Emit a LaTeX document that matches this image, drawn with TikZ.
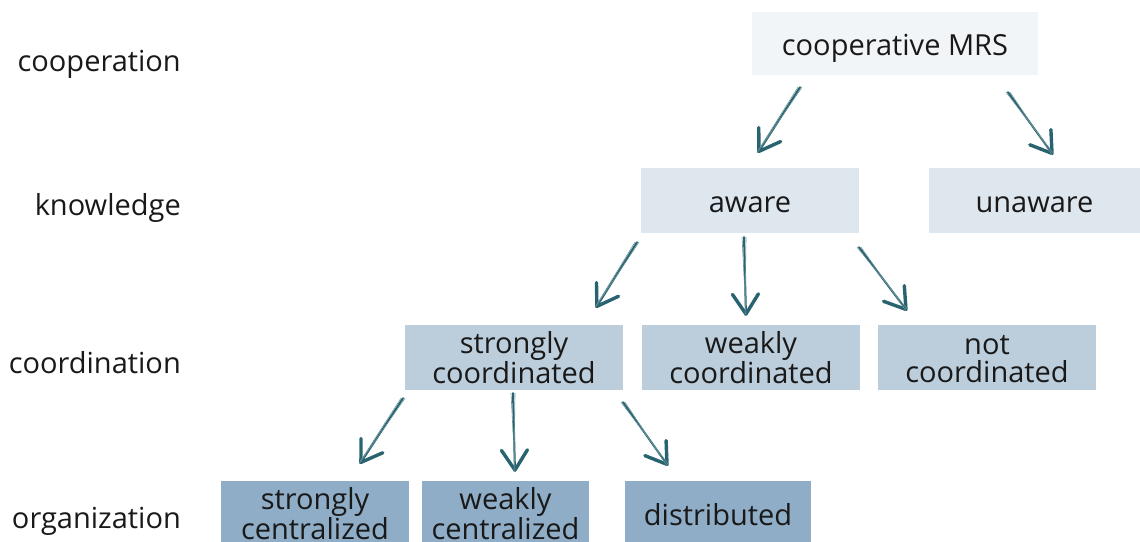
\documentclass[tikz,border=0pt]{standalone}
\usepackage{fontspec}
\setmainfont{Open Sans}
\usetikzlibrary{arrows.meta, positioning}

\definecolor{levelA}{HTML}{F2F5F8}
\definecolor{levelB}{HTML}{DFE7EE}
\definecolor{levelC}{HTML}{BCCEDC}
\definecolor{levelD}{HTML}{8FADC6}
\definecolor{arrowteal}{HTML}{28636F}

\begin{document}
\begin{tikzpicture}[
    x=1pt, y=1pt,
    % Node styles
    category/.style={
        rectangle, inner sep=0pt, align=center,
        font=\fontsize{29}{28}\selectfont, text=black!90,
    },
    one line/.style={
        category, text height=25pt, text depth=1pt,
    },
    levelname/.style={
        anchor=east, inner sep=0pt,
        font=\fontsize{29}{28}\selectfont, text=black!90,
    },
    % Edge/arrow style
    sketch/.style={
        draw=arrowteal, line width=2pt, line cap=round,
        -{Straight Barb[length=20pt, width=26pt, line width=3.4pt, round]},
    },
    sketch trace/.style={
        draw=arrowteal!70, line width=0.6pt, line cap=round,
    },
  ]
  \useasboundingbox (0,0) rectangle (1140,541);

  % --- level names on the left ---
  \node[levelname] (cooplabel) at (181,477) {cooperation};
  \node[levelname] (knowlabel) at (181,333) {knowledge};
  \node[levelname] (coordlabel) at (181,178) {coordination};
  \node[levelname] (orglabel) at (181,20) {organization};

  % --- the tree ---
  \node[one line, fill=levelA, minimum width=286pt, minimum height=63pt] (coop) at (895,497.5) {cooperative MRS};

  \node[one line, fill=levelB, minimum width=218pt, minimum height=65pt] (aware) at (750,340.5) {aware};
  \node[one line, fill=levelB, minimum width=211pt, minimum height=65pt] (unaware) at (1034.5,340.5) {unaware};

  \node[category, fill=levelC, minimum width=218pt, minimum height=65pt] (scoord) at (514,183.5) {strongly\\coordinated};
  \node[category, fill=levelC, minimum width=218pt, minimum height=65pt] (wcoord) at (751,183.5) {weakly\\coordinated};
  \node[category, fill=levelC, minimum width=218pt, minimum height=65pt] (ncoord) at (987,183.5) {\vphantom{l}not\\coordinated};

  \node[category, fill=levelD, minimum width=188pt, minimum height=65pt] (scent) at (315,27.5) {strongly\\centralized};
  \node[category, fill=levelD, minimum width=167pt, minimum height=65pt] (wcent) at (505.5,27.5) {weakly\\centralized};
  \node[one line, fill=levelD, minimum width=186pt, minimum height=65pt] (dist) at (718,27.5) {distributed};

  % --- hand drawn arrows ---
  \foreach \from/\fs/\to/\ts in {
      coop/{(-95,-12)}/aware/{(8,15)},
      coop/{(113,-17)}/unaware/{(18.5,13)},
      aware/{(-113,-9)}/scoord/{(82,17)},
      aware/{(-6,-4)}/wcoord/{(-5,9)},
      aware/{(109,-14)}/ncoord/{(-80,14)},
      scoord/{(-111,-8)}/scent/{(45,17)},
      scoord/{(-1,-3)}/wcent/{(9.5,9)},
      scoord/{(109,-12)}/dist/{(-50,15)}} {
    \draw[sketch] ([shift=\fs]\from.south) -- ([shift=\ts]\to.north);
    \draw[sketch trace] ([shift=\fs, xshift=2pt]\from.south) -- ([shift=\ts, xshift=-1pt]\to.north);
    \draw[sketch trace] ([shift=\fs, xshift=-2pt]\from.south) -- ([shift=\ts, yshift=2pt]\to.north);
  }
\end{tikzpicture}
\end{document}
